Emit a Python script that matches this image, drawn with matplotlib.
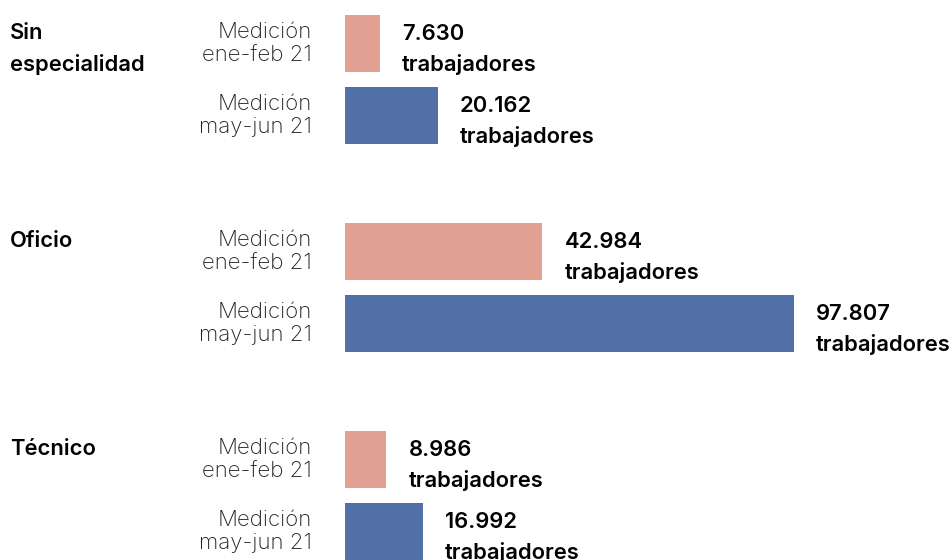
import numpy as np
import matplotlib
matplotlib.use('Agg')
from matplotlib import pyplot as plt

categorias = ['Sin\nespecialidad', 'Oficio', 'Técnico']
mediciones = ['Medición\nene-feb 21', 'Medición\nmay-jun 21']
ene_feb = [7630, 42984, 8986]
may_jun = [20162, 97807, 16992]
colores = ['#E3A194', '#5170A8']

plt.rcParams['font.family'] = ['Inter', 'DejaVu Sans']

W, H = 952, 560
fig = plt.figure(figsize=(W / 100, H / 100), dpi=100)
ax = fig.add_axes([0, 0, 1, 1])

# escala: barras empiezan en el pixel 345, 97.807 termina en 794
x0 = 345
s = 449 / 97807
ax.set_xlim(-x0 / s, (W - x0) / s)
ax.set_ylim(H, 0)
ax.axis('off')

def fmt(v):
    return f'{v:,}'.replace(',', '.')

grupo = 208
paso = 72
alto = 57
for i, cat in enumerate(categorias):
    y_cat = 43.5 + i * grupo
    fig.text(10 / W, 1 - (y_cat - 20.5) / H, cat, ha='left', va='top',
             fontsize=15.8, fontweight='semibold', linespacing=1.62)
    for j, vals in enumerate([ene_feb, may_jun]):
        y = y_cat + j * paso
        v = vals[i]
        ax.barh(y, v, height=alto, color=colores[j], left=0)
        fig.text(312 / W, 1 - y / H, mediciones[j], ha='right', va='center',
                 fontsize=16, fontweight='light', color='#222222', linespacing=1.2)
        ax.annotate(f'{fmt(v)}\ntrabajadores', (v, y + 6), xytext=(16, 0),
                    textcoords='offset points', ha='left', va='center',
                    fontsize=15.8, fontweight='semibold', linespacing=1.55,
                    annotation_clip=False)

fig.savefig('out.png', dpi=100)
